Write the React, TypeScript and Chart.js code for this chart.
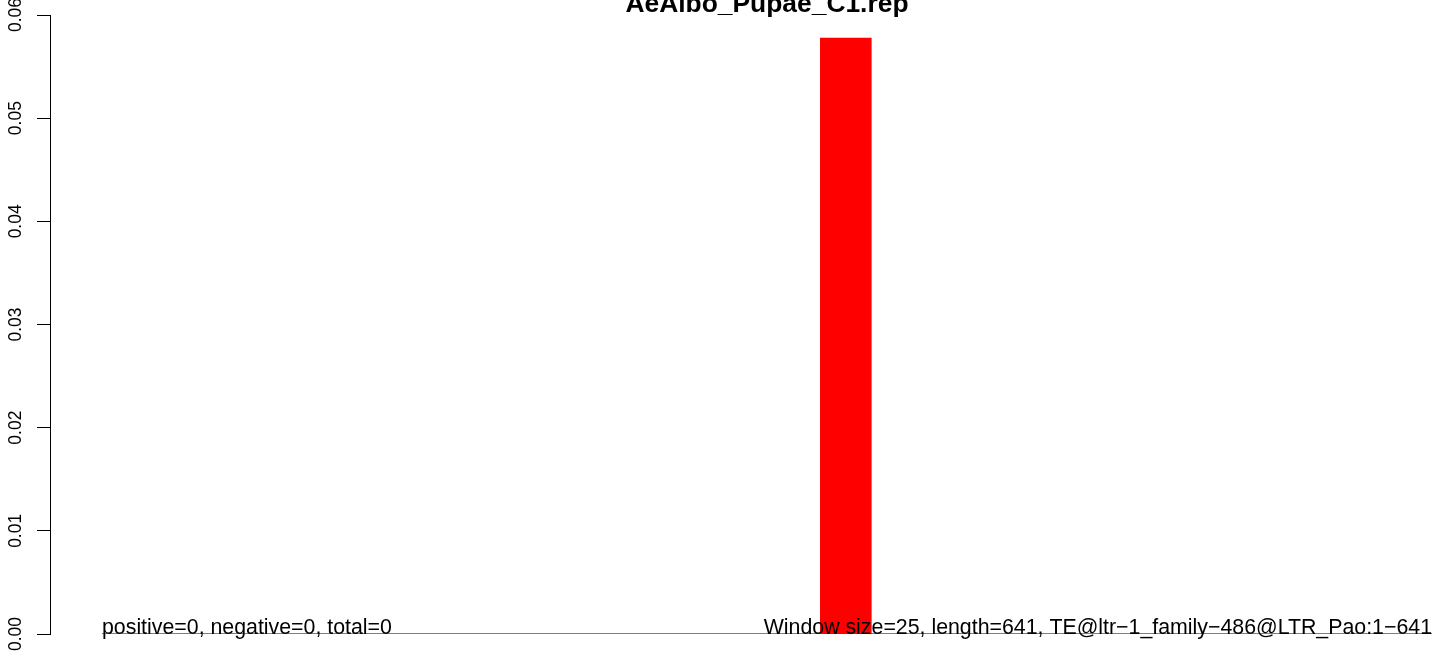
import React, { useEffect, useRef } from "react";
import { Chart, registerables } from "chart.js";

Chart.register(...registerables);

// ---- data ----
const TITLE = "AeAlbo_Pupae_C1.rep";
const SEQUENCE_LENGTH = 641;
const WINDOW_SIZE = 25;
const windowStarts = [346];
const windowValues = [0.0578];
const yTickValues = [0, 0.01, 0.02, 0.03, 0.04, 0.05, 0.06];
const leftNote = "positive=0, negative=0, total=0";
const rightNote = "Window size=25, length=641, TE@ltr\u22121_family\u2212486@LTR_Pao:1\u2212641";

const FONT = '"Liberation Sans", Arial, Helvetica, sans-serif';

const notesPlugin = {
  id: "notes",
  afterDatasetsDraw(chart: any) {
    const { ctx, scales } = chart;
    const x = scales.x;
    const y = scales.y;
    ctx.save();
    ctx.fillStyle = "#000";
    ctx.font = `21.33px ${FONT}`;
    ctx.textBaseline = "alphabetic";
    ctx.textAlign = "left";
    ctx.fillText(leftNote, x.getPixelForValue(0), y.getPixelForValue(0));
    ctx.textAlign = "right";
    ctx.fillText(rightNote, x.getPixelForValue(SEQUENCE_LENGTH), y.getPixelForValue(0));
    ctx.font = `bold 26.4px ${FONT}`;
    ctx.textAlign = "center";
    ctx.fillText(TITLE, x.getPixelForValue(SEQUENCE_LENGTH / 2), 12);
    ctx.restore();
  },
};

export default function App() {
  const ref = useRef<HTMLCanvasElement | null>(null);

  useEffect(() => {
    document.body.style.margin = "0";
    const canvas = ref.current;
    if (!canvas) return;

    const barDatasets = windowStarts.map((s, i) => ({
      type: "line" as const,
      data: [
        { x: s, y: 0 },
        { x: s, y: windowValues[i] },
        { x: s + WINDOW_SIZE, y: windowValues[i] },
        { x: s + WINDOW_SIZE, y: 0 },
      ],
      borderWidth: 0,
      borderColor: "rgba(0,0,0,0)",
      backgroundColor: "#ff0000",
      fill: "origin",
      pointRadius: 0,
      tension: 0,
      order: 0,
    }));

    const chart = new Chart(canvas, {
      type: "line",
      data: {
        datasets: [
          {
            data: [
              { x: 0, y: 0 },
              { x: SEQUENCE_LENGTH, y: 0 },
            ],
            borderColor: "#000000",
            borderWidth: 1.2,
            pointRadius: 0,
            fill: false,
            order: 1,
          },
          ...barDatasets,
        ] as any,
      },
      options: {
        responsive: false,
        animation: false,
        devicePixelRatio: 1,
        layout: { padding: { top: 15, bottom: 22, left: 0, right: 0 } },
        plugins: {
          legend: { display: false },
          tooltip: { enabled: false },
          title: { display: false },
        },
        scales: {
          x: {
            type: "linear",
            min: -25.06,
            max: 650.64,
            display: false,
          },
          y: {
            type: "linear",
            min: 0,
            max: 0.06,
            afterFit: (scale: any) => {
              scale.width = 50;
            },
            afterBuildTicks: (scale: any) => {
              scale.ticks = yTickValues.map((v) => ({ value: v }));
            },
            border: { display: true, color: "#000", width: 1 },
            grid: {
              drawOnChartArea: false,
              drawTicks: true,
              tickLength: 13,
              color: "#000",
              lineWidth: 1,
            },
            ticks: {
              minRotation: 90,
              maxRotation: 90,
              crossAlign: "center",
              padding: 3.5,
              color: "#000",
              font: { family: FONT, size: 17.5 },
              callback: (v: any) => Number(v).toFixed(2),
            },
          },
        },
      },
      plugins: [notesPlugin],
    });

    return () => chart.destroy();
  }, []);

  return (
    <div style={{ width: 1452, height: 656 }}>
      <canvas ref={ref} width={1452} height={656} style={{ display: "block" }} />
    </div>
  );
}
